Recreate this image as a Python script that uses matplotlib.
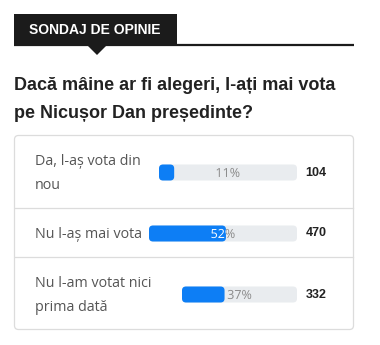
import matplotlib
matplotlib.use("Agg")
import matplotlib.pyplot as plt
from matplotlib.font_manager import FontProperties
from matplotlib.patches import FancyBboxPatch, PathPatch, Polygon, Rectangle
from matplotlib.textpath import TextPath
from matplotlib.transforms import Affine2D

# poll data
tag = "SONDAJ DE OPINIE"
question = ["Dacă mâine ar fi alegeri, l-ați mai vota", "pe Nicușor Dan președinte?"]
options = [["Da, l-aș vota din", "nou"], ["Nu l-aș mai vota"], ["Nu l-am votat nici", "prima dată"]]
percents = [11, 52, 37]
counts = [104, 470, 332]

# layout (pixels)
W, H = 380, 345
row_top = [135, 208, 257]
row_bottom = [208, 257, 330]
bar_left = [159, 149, 182]
bar_right = 297
bar_h = 16

BLUE = "#0d7ef5"
TRACK = "#e9ecef"
LABEL = "#555555"
DARK = "#222222"

fig = plt.figure(figsize=(W / 100, H / 100), dpi=100)
ax = fig.add_axes([0, 0, 1, 1])
ax.set_xlim(0, W)
ax.set_ylim(H, 0)
ax.axis("off")

pct_font = FontProperties(family="Open Sans", size=9)


def pct_label(s, cx, cy, color, clip_x0, clip_x1, y0):
    # text as a path so it can be clipped to part of the bar
    tp = TextPath((0, 0), s, prop=pct_font)
    bb = tp.get_extents()
    X, Y = ax.transData.transform((cx, cy))
    tr = (Affine2D().translate(-(bb.x0 + bb.x1) / 2, -(bb.y0 + bb.y1) / 2)
          .scale(fig.dpi / 72).translate(X, Y))
    pp = PathPatch(tp, transform=tr, fc=color, ec="none", zorder=4)
    ax.add_artist(pp)
    clip = Rectangle((clip_x0, y0 - 4), clip_x1 - clip_x0, bar_h + 8, transform=ax.transData)
    pp.set_clip_path(clip)


# header tab
ax.add_patch(Rectangle((14, 14), 163, 32, color="#1b1b1b", lw=0))
ax.plot([14, 354], [45, 45], color="#1b1b1b", lw=1.6, solid_capstyle="butt")
ax.add_patch(Polygon([(87, 45), (107, 45), (97, 55)], color="#1b1b1b", lw=0))
ax.text(29, 30.5, tag, color="white", fontsize=10, fontweight="bold",
        family="Liberation Sans", va="center", ha="left")

# question
for i, line in enumerate(question):
    ax.text(14, 86 + i * 27.5, line, color=DARK, fontsize=13, fontweight="bold",
            family="Liberation Sans", va="center", ha="left")

# card
ax.add_patch(FancyBboxPatch((14.5, 135.5), 339, 194, boxstyle="round,pad=0,rounding_size=4",
                            fc="white", ec="#dcdcdc", lw=0.9))
for y in row_bottom[:-1]:
    ax.plot([15, 353], [y, y], color="#dcdcdc", lw=0.9)

for i in range(len(options)):
    cy = (row_top[i] + row_bottom[i]) / 2 + 1
    lines = options[i]
    n = len(lines)
    for j, line in enumerate(lines):
        ty = cy + 1 + (j - (n - 1) / 2) * 24
        ax.text(35, ty, line, color=LABEL, fontsize=10.3, family="Open Sans",
                va="center", ha="left")

    x0 = bar_left[i]
    w = bar_right - x0
    xf = x0 + w * percents[i] / 100
    y0 = cy - bar_h / 2
    ax.add_patch(FancyBboxPatch((x0, y0), w, bar_h, boxstyle="round,pad=0,rounding_size=4",
                                fc=TRACK, ec="none"))
    ax.add_patch(FancyBboxPatch((x0, y0), xf - x0, bar_h,
                                boxstyle="round,pad=0,rounding_size=4", fc=BLUE, ec="none"))

    # percent label: grey on track, white over the filled part
    cx = x0 + w / 2
    s = f"{percents[i]}%"
    pct_label(s, cx, cy, "#8a8a8a", xf, bar_right + 20, y0)
    pct_label(s, cx, cy, "white", x0 - 20, xf, y0)

    ax.text(316, cy, str(counts[i]), color=DARK, fontsize=9, fontweight="bold",
            family="Liberation Sans", ha="center", va="center")

fig.savefig("out.png", dpi=100, facecolor="white")
